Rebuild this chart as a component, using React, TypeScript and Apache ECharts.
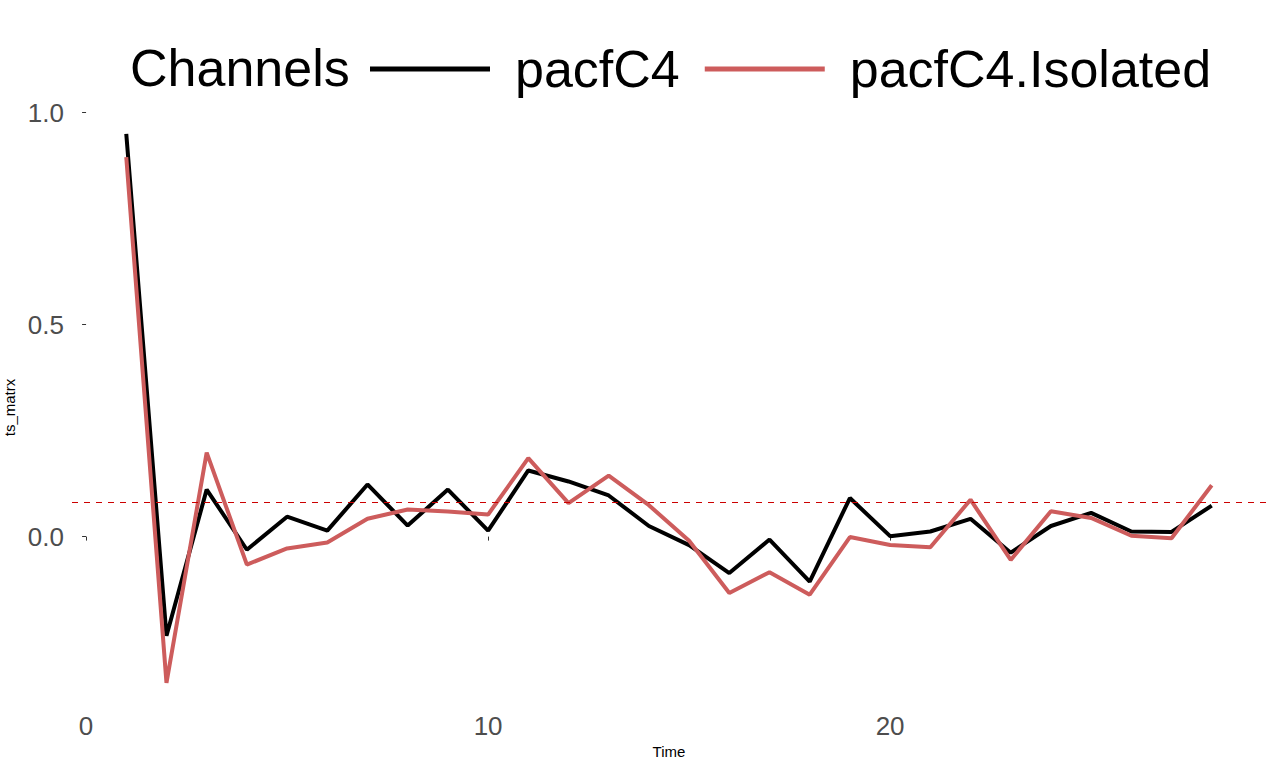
import React, { useEffect, useRef } from "react";
import * as echarts from "echarts";

const lags = [1, 2, 3, 4, 5, 6, 7, 8, 9, 10, 11, 12, 13, 14, 15, 16, 17, 18, 19, 20, 21, 22, 23, 24, 25, 26, 27, 28];
const pacfC4 = [0.950, -0.234, 0.111, -0.031, 0.047, 0.014, 0.123, 0.026, 0.111, 0.014, 0.156, 0.130, 0.097, 0.025, -0.020, -0.086, -0.007, -0.106, 0.091, 0.001, 0.012, 0.042, -0.038, 0.025, 0.056, 0.012, 0.011, 0.073];
const pacfC4Isolated = [0.895, -0.345, 0.198, -0.066, -0.028, -0.014, 0.042, 0.064, 0.059, 0.052, 0.185, 0.079, 0.144, 0.074, -0.010, -0.133, -0.084, -0.137, -0.001, -0.020, -0.025, 0.087, -0.055, 0.060, 0.044, 0.002, -0.004, 0.121];
const seriesNames = ["pacfC4", "pacfC4.Isolated"];
const seriesColors = ["#000000", "#CD5C5C"];
const confLimit = 0.0795;
const xTicks = [0, 10, 20];
const yTicks = [0, 0.5, 1.0];

const FONT = "'Liberation Sans', Arial, sans-serif";

export default function App() {
  const ref = useRef<HTMLDivElement>(null);
  useEffect(() => {
    if (!ref.current) return;
    const chart = echarts.init(ref.current, undefined, { renderer: "svg" });
    const mk = (vals: number[]) => lags.map((l, i) => [l, vals[i]]);
    chart.setOption({
      animation: false,
      backgroundColor: "#ffffff",
      textStyle: { fontFamily: FONT },
      grid: { left: 72, right: 14, top: 105, bottom: 57, outerBoundsMode: "none", containLabel: false },
      legend: {
        left: 365,
        top: 31,
        itemWidth: 120,
        itemHeight: 5,
        itemGap: 25,
        icon: "rect",
        data: seriesNames,
        textStyle: {
          fontFamily: FONT,
          fontSize: 52,
          color: "#000000",
          lineHeight: 60,
          padding: [0, 0, 6, 20],
        },
      },
      graphic: [
        {
          type: "text",
          left: 130,
          top: 38,
          style: {
            text: "Channels",
            fontFamily: FONT,
            fontSize: 52,
            lineHeight: 60,
            fill: "#000000",
          },
        },
      ],
      xAxis: {
        type: "value",
        min: -0.35,
        max: 29.35,
        name: "Time",
        nameLocation: "middle",
        nameGap: 33,
        nameTextStyle: { fontFamily: FONT, fontSize: 15, color: "#000000" },
        axisLine: { show: false },
        splitLine: { show: false },
        axisTick: { show: true, length: 4, lineStyle: { color: "#333333" }, customValues: xTicks },
        axisLabel: {
          customValues: xTicks,
          fontFamily: FONT,
          fontSize: 26,
          color: "#4D4D4D",
          margin: 3,
        },
      },
      yAxis: {
        type: "value",
        min: -0.409,
        max: 1.018,
        name: "ts_matrx",
        nameLocation: "middle",
        nameGap: 52,
        nameTextStyle: { fontFamily: FONT, fontSize: 15, color: "#000000" },
        axisLine: { show: false },
        splitLine: { show: false },
        axisTick: { show: true, length: 4, lineStyle: { color: "#333333" }, customValues: yTicks },
        axisLabel: {
          customValues: yTicks,
          fontFamily: FONT,
          fontSize: 26,
          color: "#4D4D4D",
          margin: 8,
          formatter: (v: number) => v.toFixed(1),
        },
      },
      series: [
        {
          name: seriesNames[0],
          type: "line",
          data: mk(pacfC4),
          showSymbol: false,
          symbol: "none",
          lineStyle: { color: seriesColors[0], width: 4 },
          itemStyle: { color: seriesColors[0] },
          z: 2,
          markLine: {
            silent: true,
            symbol: "none",
            label: { show: false },
            lineStyle: { color: "#CC0000", type: [6, 6], width: 1 },
            data: [{ yAxis: confLimit }],
          },
        },
        {
          name: seriesNames[1],
          type: "line",
          data: mk(pacfC4Isolated),
          showSymbol: false,
          symbol: "none",
          lineStyle: { color: seriesColors[1], width: 4 },
          itemStyle: { color: seriesColors[1] },
          z: 3,
        },
      ],
    });
    return () => chart.dispose();
  }, []);
  return (
    <div
      ref={ref}
      style={{ position: "fixed", left: 0, top: 0, width: 1280, height: 767 }}
    />
  );
}
